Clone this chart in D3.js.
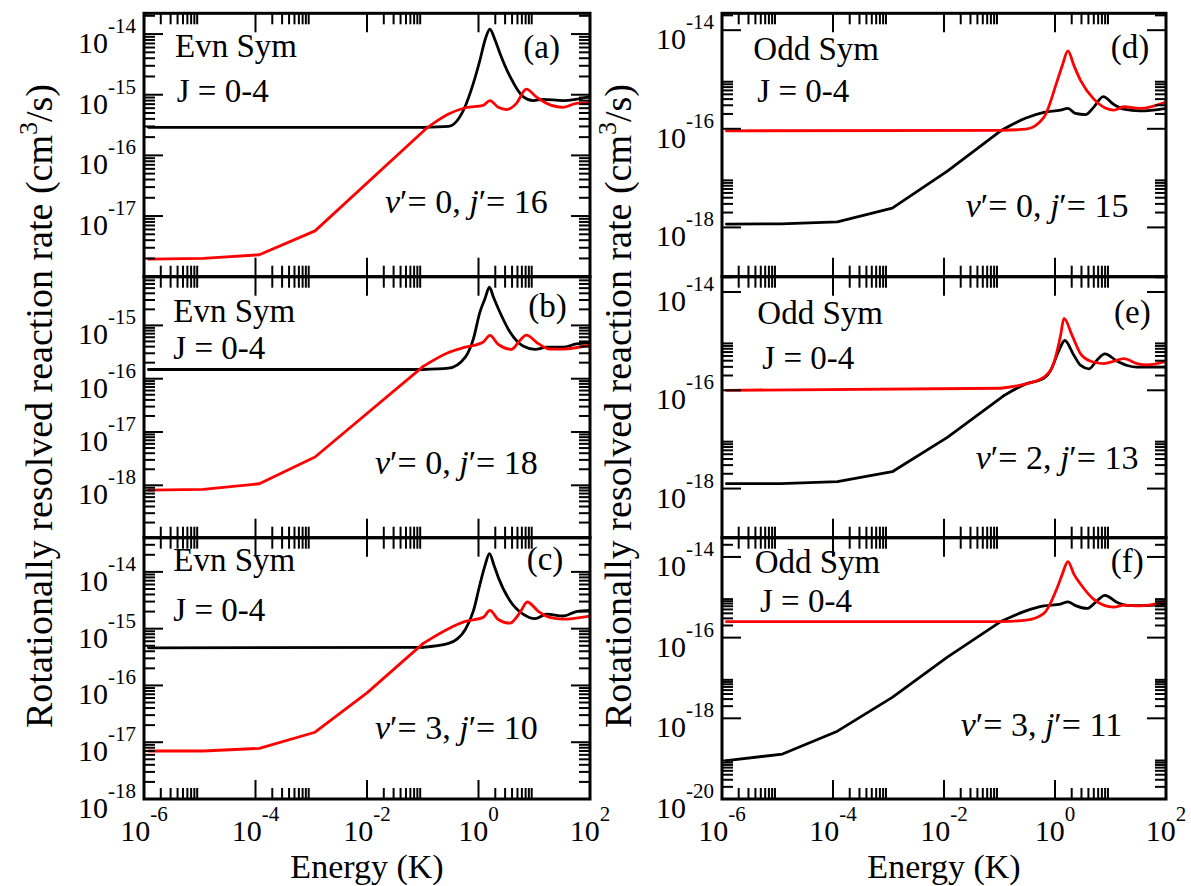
<!DOCTYPE html>
<html>
<head>
<meta charset="utf-8">
<script src="https://cdn.jsdelivr.net/npm/d3@7"></script>
<style>
  body { margin: 0; background: #fff; }
  svg { display: block; }
  text { font-family: "Liberation Serif", "Times New Roman", "DejaVu Serif", serif; fill: #000; }
</style>
</head>
<body>
<svg id="fig" width="1191" height="886" font-family="Liberation Serif, Times New Roman, serif"></svg>
<script>
// ---- data (energy in K, rate in cm^3/s) ----
const panelIds = ["a", "b", "c", "d", "e", "f"];
const symLabels = ["Evn Sym", "Evn Sym", "Evn Sym", "Odd Sym", "Odd Sym", "Odd Sym"];
const jLabel = "J = 0-4";
const vPrime = [0, 0, 3, 0, 2, 3];
const jPrime = [16, 18, 10, 15, 13, 11];
const xDomain = [1e-6, 1e2];
const xTickExp = [-6, -4, -2, 0, 2];
const yDomains = [[1e-18, 2.2e-14], [1.04e-19, 8.2e-15], [1e-18, 4e-14],
                  [1e-19, 2.2e-14], [1e-19, 2.05e-14], [1e-20, 3e-14]];
const yLabelExp = [[-14, -15, -16, -17], [-15, -16, -17, -18], [-14, -15, -16, -17, -18],
                   [-14, -16, -18], [-14, -16, -18], [-14, -16, -18, -20]];

const blackA = [[1.2e-6,2.9e-16],[0.1,2.9e-16],[0.29,3.0e-16],[0.54,5.6e-16],[0.81,1.55e-15],[1.06,3.7e-15],[1.31,8e-15],[1.6,1.2e-14],[1.98,8e-15],[2.43,4.8e-15],[3.67,2e-15],[6.3,9.3e-16],[9.6,8e-16],[14.4,8.4e-16],[33,8e-16],[100,9.3e-16]];
const redA = [[1.2e-6,1.95e-18],[1.15e-5,2.0e-18],[1.17e-4,2.3e-18],[1.17e-3,5.7e-18],[0.117,2.8e-16],[0.29,4.8e-16],[0.58,6.1e-16],[1.22,6.7e-16],[1.6,8e-16],[2.26,6.2e-16],[3.2,5.7e-16],[4.8,7.2e-16],[7.2,1.24e-15],[11,9.1e-16],[16.7,7.2e-16],[33,6.2e-16],[57,7.2e-16],[100,7.4e-16]];

const blackB = [[1.2e-6,1.49e-16],[0.1,1.49e-16],[0.29,1.58e-16],[0.58,2.55e-16],[0.81,5.6e-16],[1.06,1.78e-15],[1.31,3.2e-15],[1.57,5.2e-15],[1.85,3.4e-15],[2.27,2.05e-15],[3.67,7.5e-16],[6.3,4.1e-16],[10.3,3.55e-16],[16.7,3.9e-16],[33,3.9e-16],[57,4.5e-16],[100,4.7e-16]];
const redB = [[1.2e-6,8.1e-19],[1.15e-5,8.4e-19],[1.17e-4,1.07e-18],[1.17e-3,3.4e-18],[0.102,1.7e-16],[0.29,3.1e-16],[0.58,3.9e-16],[1.22,4.9e-16],[1.6,6.5e-16],[2.26,4.4e-16],[3.9,3.55e-16],[5.5,5.2e-16],[7.2,6.6e-16],[12,4.5e-16],[19,3.6e-16],[33,3.6e-16],[100,4.3e-16]];

const blackC = [[1.2e-6,4.6e-16],[0.1,4.7e-16],[0.29,5.5e-16],[0.58,9.7e-16],[0.81,2.05e-15],[1.06,6e-15],[1.31,1.3e-14],[1.57,2.1e-14],[1.9,1.3e-14],[2.27,8e-15],[3.67,3.1e-15],[6.3,1.8e-15],[10.3,1.5e-15],[16.7,1.8e-15],[33,1.67e-15],[57,2e-15],[100,2.1e-15]];
const redC = [[1.2e-6,7e-18],[1.15e-5,7e-18],[1.17e-4,7.8e-18],[1.17e-3,1.5e-17],[1e-2,7.4e-17],[0.102,5.5e-16],[0.29,1e-15],[0.58,1.34e-15],[1.22,1.58e-15],[1.6,2.1e-15],[2.26,1.45e-15],[3.67,1.25e-15],[5.5,1.9e-15],[7.5,2.95e-15],[12,2e-15],[19,1.58e-15],[33,1.47e-15],[100,1.67e-15]];

const blackD = [[1.2e-6,1.17e-18],[1.15e-5,1.18e-18],[1.2e-4,1.3e-18],[1.17e-3,2.45e-18],[1.15e-2,1.38e-17],[0.105,9.1e-17],[0.3,1.65e-16],[0.63,2.15e-16],[1.26,2.4e-16],[1.71,2.6e-16],[2.34,2.05e-16],[3.57,1.94e-16],[5,2.75e-16],[7.4,4.5e-16],[11.5,3.1e-16],[17.4,2.5e-16],[34,2.3e-16],[100,2.6e-16]];
const redD = [[1.2e-6,9.1e-17],[0.105,9.3e-17],[0.3,9.8e-17],[0.63,1.7e-16],[1.1,9.5e-16],[1.35,1.9e-15],[1.71,3.8e-15],[2.2,1.9e-15],[2.9,9.5e-16],[5,4e-16],[11.5,2.4e-16],[17.4,2.8e-16],[34,2.6e-16],[100,3.5e-16]];

const blackE = [[1.2e-6,1.26e-18],[1.15e-5,1.26e-18],[1.2e-4,1.38e-18],[1.17e-3,2.2e-18],[1.15e-2,1.1e-17],[0.12,7.8e-17],[0.3,1.35e-16],[0.63,1.75e-16],[0.83,2.5e-16],[1.18,6.5e-16],[1.5,1.03e-15],[2.2,5.1e-16],[2.9,3.2e-16],[4.1,2.74e-16],[5.7,4.1e-16],[7.9,5.5e-16],[13.3,3.9e-16],[20,3.2e-16],[30,2.95e-16],[100,2.95e-16]];
const redE = [[1.2e-6,1e-16],[0.105,1.1e-16],[0.3,1.35e-16],[0.63,1.85e-16],[0.96,3.7e-16],[1.26,1.3e-15],[1.45,2.9e-15],[2.04,1.3e-15],[2.9,5.5e-16],[4.4,3.9e-16],[7.6,3.5e-16],[11.5,3.9e-16],[17.4,4.4e-16],[30,3.5e-16],[45,3.3e-16],[100,3.9e-16]];

const blackF = [[1.2e-6,8.9e-20],[1.23e-5,1.3e-19],[1.2e-4,4.8e-19],[1.17e-3,3.3e-18],[1.15e-2,3.3e-17],[0.105,2.5e-16],[0.3,4.6e-16],[0.63,6.1e-16],[1.26,6.8e-16],[1.71,7.7e-16],[2.34,6.2e-16],[3.8,5.3e-16],[5.3,7.4e-16],[7.9,1.12e-15],[13.3,7.4e-16],[20,6.3e-16],[34,6.2e-16],[100,6.8e-16]];
const redF = [[1.2e-6,2.5e-16],[0.105,2.5e-16],[0.3,2.7e-16],[0.63,4e-16],[1.1,1.75e-15],[1.35,3.7e-15],[1.71,7.7e-15],[2.2,3.7e-15],[2.9,2.1e-15],[5,8.9e-16],[11.5,5.7e-16],[17.4,6.4e-16],[34,6.1e-16],[100,8.1e-16]];

const blackSeries = [blackA, blackB, blackC, blackD, blackE, blackF];
const redSeries = [redA, redB, redC, redD, redE, redF];

// ---- layout ----
const colX = [[144, 590], [722, 1166]];
const rowY = [[13.3, 276.7], [276.7, 537.7], [537.7, 799]];
const symPos = [[175, 56.7], [173.3, 322], [173.3, 571.3], [753.3, 60], [757.3, 323.7], [754.7, 573.3]];
const jPos = [[176.7, 101.7], [173.3, 359.3], [173.3, 620.7], [757.3, 101.7], [762.3, 368.7], [760, 612.3]];
const idPos = [[523.3, 57.6], [528.3, 316.6], [526.7, 570], [1110.7, 58], [1114, 323], [1110.7, 572]];
const vPos = [[385, 213.3], [375, 473.7], [375, 739], [965.7, 216.7], [975.7, 469.3], [960.7, 735.7]];

const majorLen = 19, minorLen = 11;
const kneeE = 0.25;   // below this the data are straight segments, above it smooth resonances
const svg = d3.select("#fig");
svg.append("rect").attr("width", 1191).attr("height", 886).attr("fill", "#fff");

function inDomain(v, d) {
	return v >= d[0] * (1 - 1e-9) && v <= d[1] * (1 + 1e-9);
}

// majors at 10^n with n a multiple of step, minors at k*10^n for those n
function logTicks(domain, step) {
	const lo = Math.floor(Math.log10(domain[0])) - 1, hi = Math.ceil(Math.log10(domain[1])) + 1;
	const majors = [], minors = [];
	for (let n = lo; n <= hi; n++) {
		if (((n % step) + step) % step !== 0) continue;
		const base = Math.pow(10, n);
		if (inDomain(base, domain)) majors.push(base);
		for (let k = 2; k <= 9; k++) {
			if (inDomain(k * base, domain)) minors.push(k * base);
		}
	}
	return {majors, minors};
}

function powText(g, x, y, exp, anchor) {
	const t = g.append("text").attr("x", x).attr("y", y)
		.attr("text-anchor", anchor).style("font-size", "30px");
	t.append("tspan").text("10");
	t.append("tspan").attr("dy", -20).style("font-size", "21px").text(String(exp));
}

function drawSeries(parent, data, x, y, color) {
	// split at the first point past the knee: linear before, smooth after
	const k = data.findIndex(d => d[0] > kneeE);
	const low = data.slice(0, k), high = data.slice(k - 1);
	const lin = d3.line().x(d => x(d[0])).y(d => y(d[1]));
	const smooth = d3.line().curve(d3.curveMonotoneX).x(d => x(d[0])).y(d => y(d[1]));
	[[low, lin], [high, smooth]].forEach(([pts, gen]) => {
		parent.append("path").datum(pts).attr("d", gen)
			.attr("fill", "none").attr("stroke", color).attr("stroke-width", 2.8)
			.attr("stroke-linejoin", "round").attr("stroke-linecap", "round");
	});
}

panelIds.forEach((id, i) => {
	const col = i < 3 ? 0 : 1, row = i % 3;
	const [left, right] = colX[col];
	const [top, bottom] = rowY[row];
	const g = svg.append("g");

	const x = d3.scaleLog().domain(xDomain).range([left, right]);
	const y = d3.scaleLog().domain(yDomains[i]).range([bottom, top]);

	// curves
	const clipId = "clip-" + id;
	g.append("clipPath").attr("id", clipId)
		.append("rect").attr("x", left).attr("y", top).attr("width", right - left).attr("height", bottom - top);
	const curves = g.append("g").attr("clip-path", `url(#${clipId})`);
	drawSeries(curves, blackSeries[i], x, y, "#000");
	drawSeries(curves, redSeries[i], x, y, "#ff0000");

	// ticks, inward on all four sides
	const xt = logTicks(xDomain, 2);
	const yt = logTicks(yDomains[i], col === 0 ? 1 : 2);
	const segs = [];
	xt.majors.forEach(v => { const p = x(v); segs.push([p, bottom, p, bottom - majorLen], [p, top, p, top + majorLen]); });
	xt.minors.forEach(v => { const p = x(v); segs.push([p, bottom, p, bottom - minorLen], [p, top, p, top + minorLen]); });
	yt.majors.forEach(v => { const p = y(v); segs.push([left, p, left + majorLen, p], [right, p, right - majorLen, p]); });
	yt.minors.forEach(v => { const p = y(v); segs.push([left, p, left + minorLen, p], [right, p, right - minorLen, p]); });
	g.append("g").selectAll("line").data(segs).join("line")
		.attr("x1", d => d[0]).attr("y1", d => d[1]).attr("x2", d => d[2]).attr("y2", d => d[3])
		.attr("stroke", "#000").attr("stroke-width", 2);

	// frame
	g.append("rect").attr("x", left).attr("y", top).attr("width", right - left).attr("height", bottom - top)
		.attr("fill", "none").attr("stroke", "#000").attr("stroke-width", 3);

	// y tick labels
	yLabelExp[i].forEach(e => powText(g, left - 8, y(Math.pow(10, e)) + 19, e, "end"));

	// x tick labels and title on the bottom row
	if (row === 2) {
		xTickExp.forEach(e => powText(g, x(Math.pow(10, e)), bottom + 42, e, "middle"));
		g.append("text").attr("x", (left + right) / 2).attr("y", 878)
			.attr("text-anchor", "middle").style("font-size", "34px").text("Energy (K)");
	}

	// panel annotations
	g.append("text").attr("x", symPos[i][0]).attr("y", symPos[i][1]).style("font-size", "33px").text(symLabels[i]);
	g.append("text").attr("x", jPos[i][0]).attr("y", jPos[i][1]).style("font-size", "33px").text(jLabel);
	g.append("text").attr("x", idPos[i][0]).attr("y", idPos[i][1]).style("font-size", "33px").text("(" + id + ")");
	const vt = g.append("text").attr("x", vPos[i][0]).attr("y", vPos[i][1]).style("font-size", "34px");
	vt.append("tspan").style("font-style", "italic").text("v");
	vt.append("tspan").text("\u2032= " + vPrime[i] + ", ");
	vt.append("tspan").style("font-style", "italic").text("j");
	vt.append("tspan").text("\u2032= " + jPrime[i]);
});

// y axis titles
[52, 631].forEach(bx => {
	const t = svg.append("text")
		.attr("transform", `translate(${bx},406) rotate(-90)`)
		.attr("text-anchor", "middle").style("font-size", "38px");
	t.append("tspan").text("Rotationally resolved reaction rate (cm");
	t.append("tspan").attr("dy", -15).style("font-size", "26px").text("3");
	t.append("tspan").attr("dy", 15).text("/s)");
});
</script>
</body>
</html>
